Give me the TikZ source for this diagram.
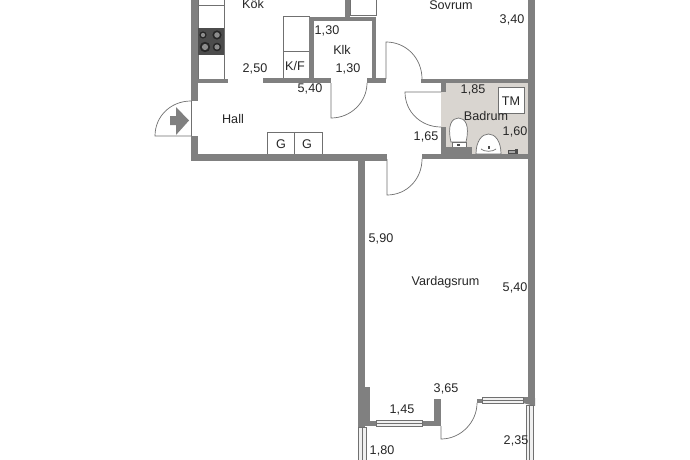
\documentclass[tikz,border=0pt]{standalone}
\usepackage{fontspec}
\setmainfont{Liberation Sans}
\definecolor{wallc}{HTML}{808080}
\definecolor{bathc}{HTML}{D9D5D0}
\definecolor{linec}{HTML}{707070}
\begin{document}
\begin{tikzpicture}[x=1pt,y=-1pt,
  wall/.style={fill=wallc,draw=none},
  thin line/.style={draw=linec,line width=0.7pt},
  fixture/.style={draw=linec,line width=0.7pt,fill=white},
  windowbox/.style={draw=linec,line width=0.8pt,fill=black!6},
  label/.style={font=\fontsize{12.6}{14}\selectfont,text=black!85,inner sep=0pt}]
\useasboundingbox (0,0) rectangle (690,460);
\fill[white] (0,0) rectangle (690,460);
% bathroom floor
\fill[bathc] (441,83) rectangle (528,154);
% fixtures
\draw[fixture] (198,-2) rectangle (224,79);
\draw[thin line] (198,5) -- (224,5);
\fill[black!70] (198,28) rectangle (224,55);
\foreach \cx/\cy/\r in {203/35/3.6,217/35/4.6,205/47/5.2,217/47/4.3}{
  \fill[black!85] (\cx,\cy) circle[radius=\r];
  \fill[black!45] (\cx,\cy) circle[radius=\r*0.6];
}
\draw[fixture] (283,16) rectangle (309,78);
\draw[thin line] (283,51) -- (309,51);
\draw[fixture] (267,132) rectangle (294,154);
\draw[fixture] (294,132) rectangle (322,154);
\draw[fixture] (350,-2) rectangle (376,15);
\draw[fixture] (498,87) rectangle (524,113);
% toilet
\draw[fixture] (451,142) .. controls (447,125) and (452,118) .. (458.5,118) .. controls (465,118) and (470,125) .. (466,142) -- cycle;
\draw[fixture] (452,142) rectangle (466,148);
\fill[black!70] (457,144) rectangle (460,146);
% sink
\draw[fixture] (476,154) .. controls (476,141) and (482,134) .. (488.5,134) .. controls (495,134) and (501,141) .. (501,154) -- cycle;
\draw[thin line] (481,149) .. controls (484,152) and (493,152) .. (496,149);
\fill[black!70] (487.5,146) rectangle (489.5,149);
% tap
\draw[draw=black!70,fill=black!35,line width=0.5pt] (508,150) rectangle (515,153);
\fill[black!70] (515,149) rectangle (518,154);
% walls
\fill[wall] (191,0) rectangle (198,101);
\fill[wall] (191,136) rectangle (198,154);
\fill[wall] (191,154) rectangle (387,161);
\fill[wall] (198,79) rectangle (228,83);
\fill[wall] (263,78) rectangle (331,83);
\fill[wall] (367,78) rectangle (386,83);
\fill[wall] (309,17) rectangle (314,78);
\fill[wall] (309,17) rectangle (376,21);
\fill[wall] (372,17) rectangle (376,79);
\fill[wall] (345,0) rectangle (350,17);
\fill[wall] (421,79) rectangle (528,83);
\fill[wall] (441,79) rectangle (446,92);
\fill[wall] (441,127) rectangle (446,150);
\fill[wall] (422,154) rectangle (528,159);
\fill[wall] (441,147) rectangle (472,159);
\fill[wall] (528,0) rectangle (535,398);
\fill[wall] (528,398) -- (535,398) -- (535,406) -- (523,403) -- (523,397) -- (528,397) -- cycle;
\fill[wall] (358,154) rectangle (365,427);
\fill[wall] (363,387) rectangle (370,422);
\fill[wall] (365,421) rectangle (376,426);
\fill[wall] (422,421) rectangle (441,426);
\fill[wall] (434,399) rectangle (441,426);
\fill[wall] (477,399) rectangle (482,403);
% windows
\draw[windowbox] (376,420) rectangle (422,426);
\draw[thin line] (376,423) -- (422,423);
\draw[windowbox] (482,397) rectangle (523,403);
\draw[thin line] (482,400) -- (523,400);
\draw[windowbox] (358,427) rectangle (366,462);
\draw[thin line] (362,427) -- (362,462);
\draw[windowbox] (526,405) rectangle (533,462);
\draw[thin line] (529.5,405) -- (529.5,462);
% doors
\draw[thin line] (331,83) -- (331,118) .. controls (351,118) and (367,102) .. (367,83);
\draw[thin line] (386,79) -- (386,42) .. controls (406,42) and (422,58) .. (422,79);
\draw[thin line] (441,92) -- (405,92) .. controls (405,112) and (421,127) .. (441,127);
\draw[thin line] (387,159) -- (387,195) .. controls (407,195) and (422,179) .. (422,159);
\draw[thin line] (441,426) -- (441,439) .. controls (461,439) and (477,422) .. (477,403);
\draw[thin line] (191,101) .. controls (171,101) and (155,116) .. (155,136) -- (191,136);
\draw[thin line] (191,101) -- (191,136);
% entrance arrow
\fill[wallc] (170,116) -- (176,116) -- (176,107) -- (189,120.5) -- (176,135) -- (176,125) -- (170,125) -- cycle;
% labels
\node[label] (kok) at (253,4) {Kök};
\node[label] (sovrum) at (451,5) {Sovrum};
\node[label] (a340) at (512,20) {3,40};
\node[label] (a130a) at (327,31) {1,30};
\node[label] (klk) at (342,50) {Klk};
\node[label] (a130b) at (348,69) {1,30};
\node[label] (kf) at (295,66) {K/F};
\node[label] (a250) at (255,69) {2,50};
\node[label] (a540a) at (310,89) {5,40};
\node[label] (hall) at (233,119) {Hall};
\node[label] (g1) at (281,144) {G};
\node[label] (g2) at (307,144) {G};
\node[label] (a185) at (473,90) {1,85};
\node[label] (tm) at (511,101) {TM};
\node[label] (badrum) at (486,116) {Badrum};
\node[label] (a160) at (515,132) {1,60};
\node[label] (a165) at (426,137) {1,65};
\node[label] (a590) at (381,239) {5,90};
\node[label] (vardagsrum) at (445.5,282) {Vardagsrum};
\node[label] (a540b) at (515,288) {5,40};
\node[label] (a365) at (446,389) {3,65};
\node[label] (a145) at (402,410) {1,45};
\node[label] (a180) at (382,451) {1,80};
\node[label] (a235) at (516,441) {2,35};
\end{tikzpicture}
\end{document}
